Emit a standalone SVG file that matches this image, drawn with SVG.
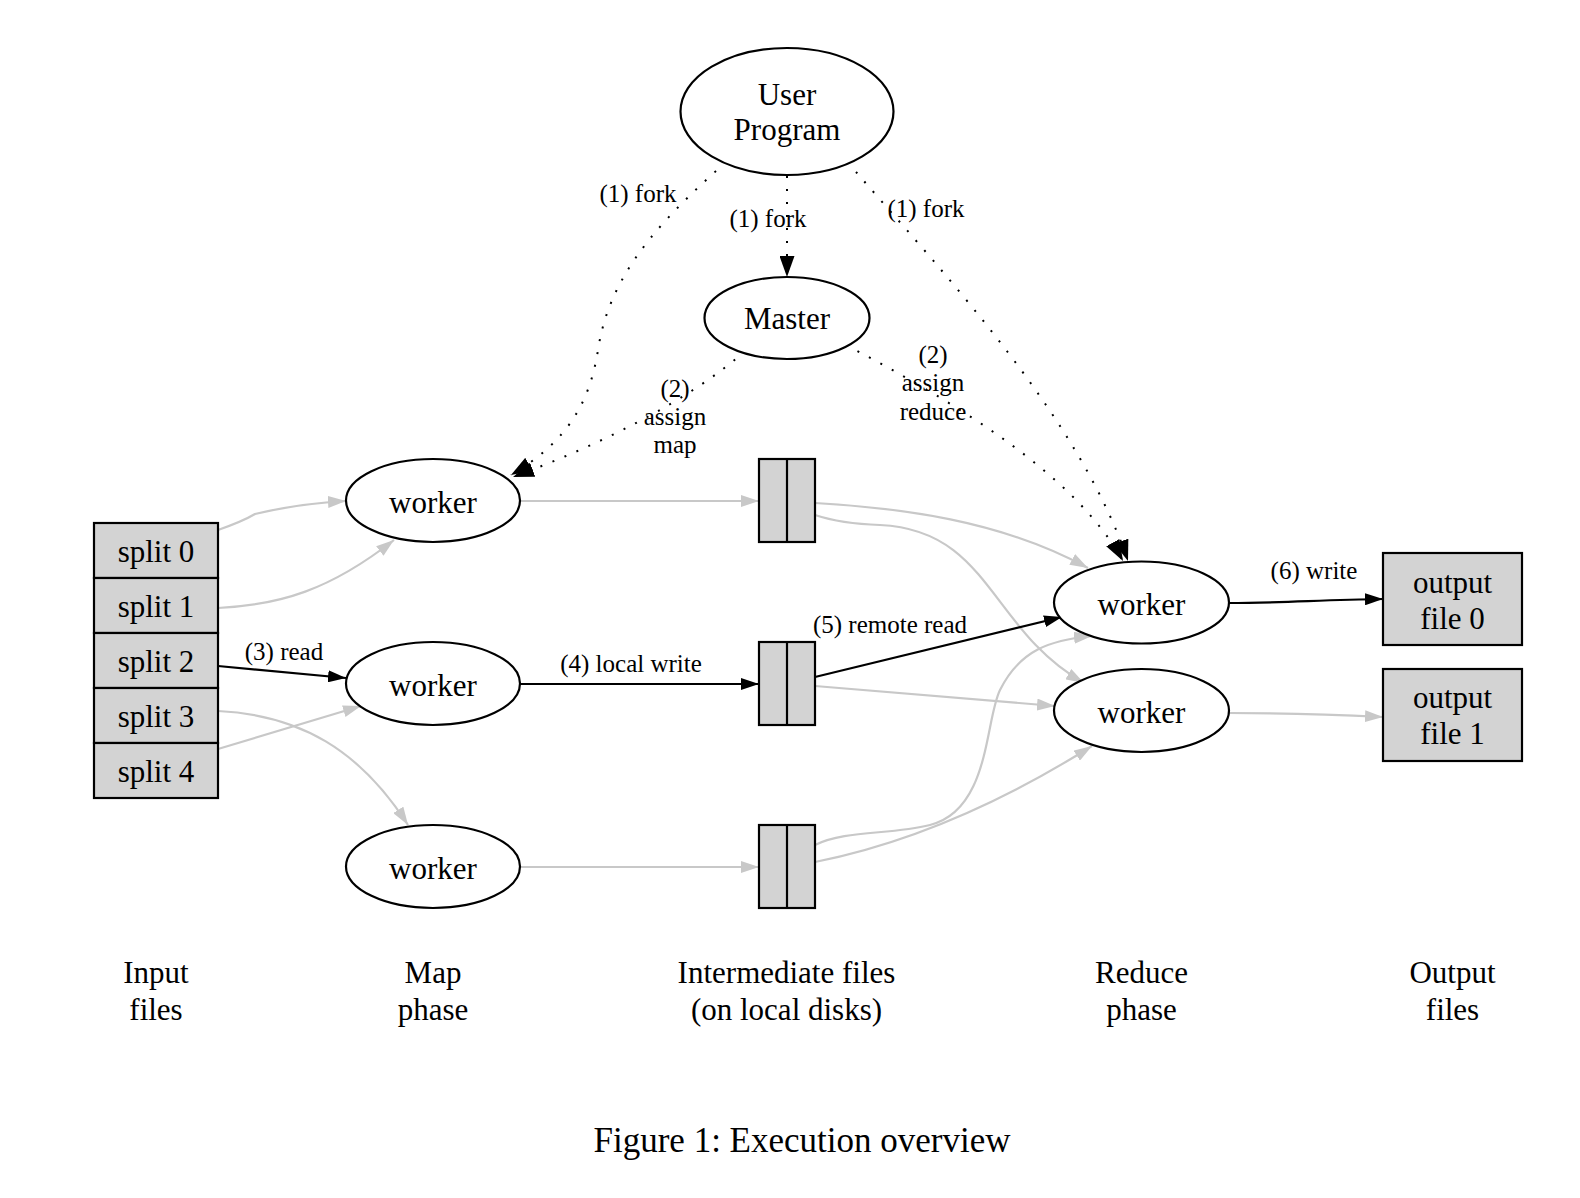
<svg xmlns="http://www.w3.org/2000/svg" width="1580" height="1198" viewBox="0 0 1580 1198">
<style>
.node ellipse{fill:#fff;stroke:#000;stroke-width:2.2}
.box{fill:#d3d3d3;stroke:#000;stroke-width:2.2}
.div{stroke:#000;stroke-width:2.2}
text{font-family:"Liberation Serif","Times New Roman",serif;fill:#000}
.big{font-size:31px;text-anchor:middle}
.lbl{font-size:25px;text-anchor:middle}
.cap{font-size:35px;text-anchor:middle}
.gray{fill:none;stroke:#c8c8c8;stroke-width:2.2;marker-end:url(#ag)}
.blk{fill:none;stroke:#000;stroke-width:2.2;marker-end:url(#ab)}
.dot{fill:none;stroke:#000;stroke-width:2;stroke-dasharray:2 11;marker-end:url(#ad)}
</style>
<defs>
<marker id="ab" viewBox="0 0 18 12" refX="18" refY="6" markerWidth="18" markerHeight="12" markerUnits="userSpaceOnUse" orient="auto"><path d="M0,0 L18,6 L0,12 z" fill="#000" stroke="none"/></marker>
<marker id="ag" viewBox="0 0 18 12" refX="18" refY="6" markerWidth="18" markerHeight="12" markerUnits="userSpaceOnUse" orient="auto"><path d="M0,0 L18,6 L0,12 z" fill="#c8c8c8" stroke="none"/></marker>
<marker id="ad" viewBox="0 0 21 15" refX="21" refY="7.5" markerWidth="21" markerHeight="15" markerUnits="userSpaceOnUse" orient="auto"><path d="M0,0 L21,7.5 L0,15 z" fill="#000" stroke="none"/></marker>
</defs>
<rect width="1580" height="1198" fill="#fff"/>

<g id="connectors">
<path class="dot" d="M716,171 C645,235 608,285 598,350 C590,400 570,440 511,475"/>
<path class="dot" d="M787,176 L787,277"/>
<path class="dot" d="M856,172 C950,280 1080,420 1128,561"/>
<path class="dot" d="M745,351 C690,400 600,445 513,477"/>
<path class="dot" d="M846,345 C960,405 1075,475 1123,561"/>
<path class="gray" d="M218,530 C235,524 245,520 255,514 C280,508 310,503 346,501"/>
<path class="gray" d="M218,608 C280,605 330,590 394,540"/>
<path class="blk" d="M218,666 L346,678"/>
<path class="gray" d="M218,711 C300,715 360,750 408,825"/>
<path class="gray" d="M218,749 L361,706"/>
<path class="gray" d="M520,501 L759,501"/>
<path class="blk" d="M520,684 L759,684"/>
<path class="gray" d="M520,867 L759,867"/>
<path class="gray" d="M815,503 C900,508 1000,520 1088,568"/>
<path class="gray" d="M815,515 C830,520 850,524 880,525 C990,530 990,630 1084,683"/>
<path class="blk" d="M815,677 L1062,617"/>
<path class="gray" d="M815,686 L1055,706"/>
<path class="gray" d="M815,845 C845,830 890,835 930,825 C990,810 985,720 1000,690 C1020,650 1050,640 1092,636"/>
<path class="gray" d="M815,862 C900,845 990,810 1092,746"/>
<path class="blk" d="M1229,603 C1280,603 1320,600 1383,599"/>
<path class="gray" d="M1229,713 C1280,713 1320,714 1383,717"/>
<text class="lbl" x="638" y="202">(1) fork</text>
<text class="lbl" x="768" y="227">(1) fork</text>
<text class="lbl" x="926" y="217">(1) fork</text>
<text class="lbl" x="675" y="397">(2)</text>
<text class="lbl" x="675" y="425">assign</text>
<text class="lbl" x="675" y="453">map</text>
<text class="lbl" x="933" y="363">(2)</text>
<text class="lbl" x="933" y="391">assign</text>
<text class="lbl" x="933" y="420">reduce</text>
<text class="lbl" x="284" y="660">(3) read</text>
<text class="lbl" x="631" y="672">(4) local write</text>
<text class="lbl" x="890" y="633">(5) remote read</text>
<text class="lbl" x="1314" y="579">(6) write</text>
</g>

<g id="user-program" class="node"><ellipse cx="787" cy="111.5" rx="106.5" ry="63.5"/><text class="big" x="787" y="105">User</text><text class="big" x="787" y="140">Program</text></g>
<g id="master" class="node"><ellipse cx="787" cy="318" rx="82.5" ry="41"/><text class="big" x="787" y="329">Master</text></g>

<g id="splits">
<rect class="box" x="94" y="523" width="124" height="55"/><text class="big" x="156" y="562">split 0</text>
<rect class="box" x="94" y="578" width="124" height="55"/><text class="big" x="156" y="617">split 1</text>
<rect class="box" x="94" y="633" width="124" height="55"/><text class="big" x="156" y="672">split 2</text>
<rect class="box" x="94" y="688" width="124" height="55"/><text class="big" x="156" y="727">split 3</text>
<rect class="box" x="94" y="743" width="124" height="55"/><text class="big" x="156" y="782">split 4</text>
</g>

<g id="map-worker-0" class="node"><ellipse cx="433" cy="500.5" rx="87" ry="41.5"/><text class="big" x="433" y="513">worker</text></g>
<g id="map-worker-1" class="node"><ellipse cx="433" cy="683.5" rx="87" ry="41.5"/><text class="big" x="433" y="696">worker</text></g>
<g id="map-worker-2" class="node"><ellipse cx="433" cy="866.5" rx="87" ry="41.5"/><text class="big" x="433" y="879">worker</text></g>

<g id="inter-0"><rect class="box" x="759" y="459" width="56" height="83"/><line class="div" x1="787" y1="459" x2="787" y2="542"/></g>
<g id="inter-1"><rect class="box" x="759" y="642" width="56" height="83"/><line class="div" x1="787" y1="642" x2="787" y2="725"/></g>
<g id="inter-2"><rect class="box" x="759" y="825" width="56" height="83"/><line class="div" x1="787" y1="825" x2="787" y2="908"/></g>

<g id="reduce-worker-0" class="node"><ellipse cx="1141.5" cy="602.5" rx="87.5" ry="41"/><text class="big" x="1141.5" y="615">worker</text></g>
<g id="reduce-worker-1" class="node"><ellipse cx="1141.5" cy="710.5" rx="87.5" ry="41.5"/><text class="big" x="1141.5" y="723">worker</text></g>

<g id="output-0"><rect class="box" x="1383" y="553" width="139" height="92"/><text class="big" x="1452.5" y="593">output</text><text class="big" x="1452.5" y="629">file 0</text></g>
<g id="output-1"><rect class="box" x="1383" y="669" width="139" height="92"/><text class="big" x="1452.5" y="708">output</text><text class="big" x="1452.5" y="744">file 1</text></g>

<g id="phase-labels">
<text class="big" x="156" y="983">Input</text><text class="big" x="156" y="1020">files</text>
<text class="big" x="433" y="983">Map</text><text class="big" x="433" y="1020">phase</text>
<text class="big" x="786.5" y="983">Intermediate files</text><text class="big" x="786.5" y="1020">(on local disks)</text>
<text class="big" x="1141.5" y="983">Reduce</text><text class="big" x="1141.5" y="1020">phase</text>
<text class="big" x="1452.5" y="983">Output</text><text class="big" x="1452.5" y="1020">files</text>
</g>
<text class="cap" x="802" y="1152">Figure 1: Execution overview</text>
</svg>
